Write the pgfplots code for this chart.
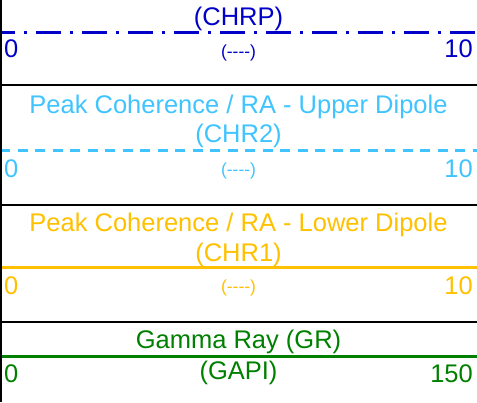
\documentclass[border=0pt]{standalone}
\usepackage{pgfplots}
\pgfplotsset{compat=1.18}
\usepackage{fontspec}
\setmainfont{Liberation Sans}
\newfontfamily\plainf{Liberation Sans}
\definecolor{chrp}{RGB}{0,0,200}
\definecolor{chrtwo}{RGB}{64,196,255}
\definecolor{chrone}{RGB}{255,192,0}
\definecolor{grc}{RGB}{0,128,0}
\newcommand{\bigf}{\fontsize{25.5}{30}\selectfont}
\newcommand{\smf}{\plainf\fontsize{17.5}{21}\selectfont}
\pgfplotsset{sec/.style={hide axis, scale only axis, width=477pt, xmin=0, ymin=0,
  y dir=reverse, clip=false, anchor=north west}}
\begin{document}
\begin{tikzpicture}[x=1pt,y=1pt]
\useasboundingbox (0,0) rectangle (477,-402);
\clip (0,0) rectangle (477,-402);
% CHRP
\begin{axis}[sec, at={(0pt,33pt)}, height=118pt, ymax=118, xmax=10]
\addplot[chrp, line width=3pt, dash pattern=on 25pt off 9pt on 3pt off 9pt, dash phase=10pt] coordinates {(0,65) (10,65)};
\node[text=chrp, font=\bigf] at (axis cs:5,52) {(CHRP)};
\node[text=chrp, font=\bigf, anchor=west, inner sep=0] at (axis cs:0.084,82) {0};
\node[text=chrp, font=\bigf, anchor=east, inner sep=0] at (axis cs:9.916,82) {10};
\node[text=chrp, font=\smf] at (axis cs:5,86) {(----)};
\end{axis}
% CHR2
\begin{axis}[sec, at={(0pt,-85pt)}, height=120pt, ymax=120, xmax=10]
\addplot[chrtwo, line width=3pt, dash pattern=on 10pt off 7.5pt] coordinates {(0,65) (10,65)};
\node[text=chrtwo, font=\bigf] at (axis cs:5,21.5) {Peak Coherence / RA - Upper Dipole};
\node[text=chrtwo, font=\bigf] at (axis cs:5,51) {(CHR2)};
\node[text=chrtwo, font=\bigf, anchor=west, inner sep=0] at (axis cs:0.084,83.3) {0};
\node[text=chrtwo, font=\bigf, anchor=east, inner sep=0] at (axis cs:9.916,83.3) {10};
\node[text=chrtwo, font=\smf] at (axis cs:5,85.7) {(----)};
\end{axis}
% CHR1
\begin{axis}[sec, at={(0pt,-205pt)}, height=117pt, ymax=117, xmax=10]
\addplot[chrone, line width=3pt] coordinates {(0,62.7) (10,62.7)};
\node[text=chrone, font=\bigf] at (axis cs:5,20) {Peak Coherence / RA - Lower Dipole};
\node[text=chrone, font=\bigf] at (axis cs:5,50) {(CHR1)};
\node[text=chrone, font=\bigf, anchor=west, inner sep=0] at (axis cs:0.084,81) {0};
\node[text=chrone, font=\bigf, anchor=east, inner sep=0] at (axis cs:9.916,81) {10};
\node[text=chrone, font=\smf] at (axis cs:5,83) {(----)};
\end{axis}
% GR
\begin{axis}[sec, at={(0pt,-322pt)}, height=80pt, ymax=80, xmax=150]
\addplot[grc, line width=3pt] coordinates {(0,34.7) (150,34.7)};
\node[text=grc, font=\bigf] at (axis cs:75,19.7) {Gamma Ray (GR)};
\node[text=grc, font=\bigf, anchor=west, inner sep=0] at (axis cs:1.26,51.3) {0};
\node[text=grc, font=\bigf, anchor=east, inner sep=0] at (axis cs:148.74,51.3) {150};
\node[text=grc, font=\bigf] at (axis cs:75,51.3) {(GAPI)};
\end{axis}
\draw[line width=2pt] (0,-85) -- (477,-85);
\draw[line width=2pt] (0,-205) -- (477,-205);
\draw[line width=2pt] (0,-322) -- (477,-322);
\draw[line width=2pt] (1,0) -- (1,-402);
\end{tikzpicture}
\end{document}
